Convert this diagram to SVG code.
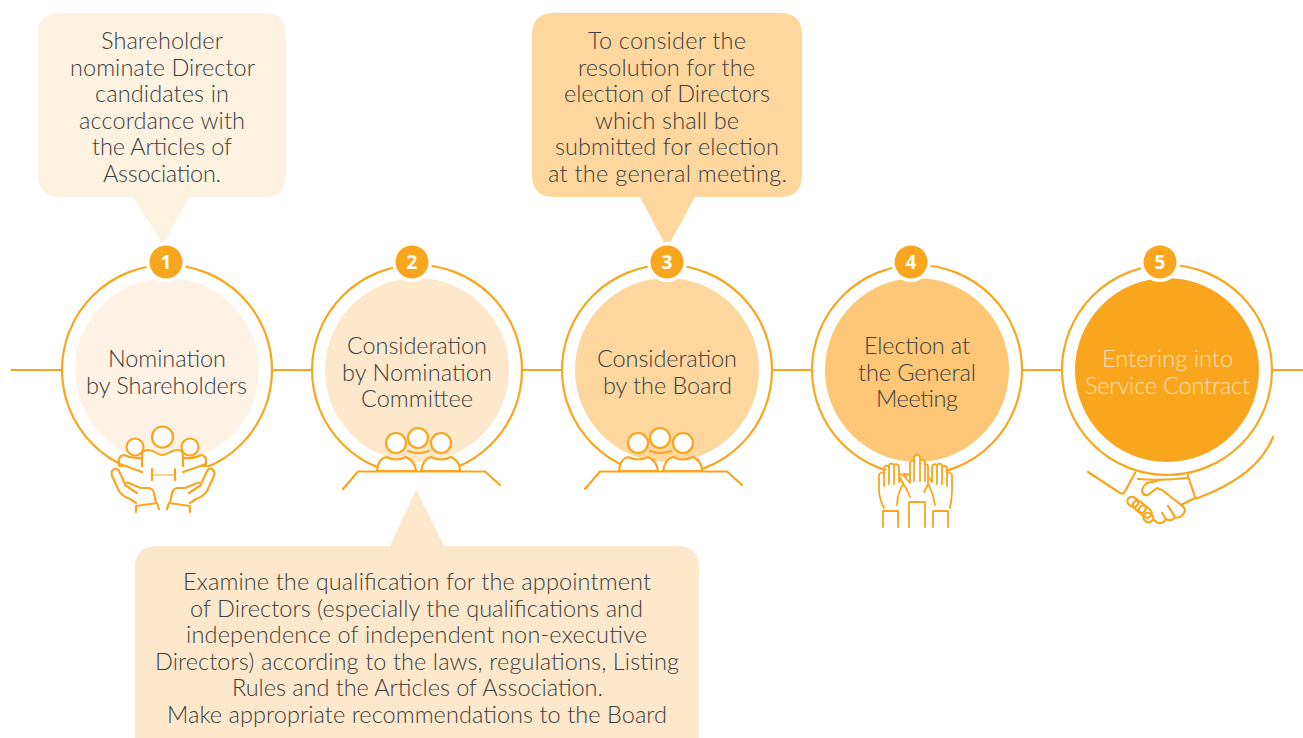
<svg xmlns="http://www.w3.org/2000/svg" width="1303" height="738" viewBox="0 0 1303 738">
<style>
.t{font-family:"Lato","Open Sans",sans-serif;font-weight:300;font-size:23.500px;fill:#3d3d3d;text-anchor:middle}
.ring{fill:none;stroke:#f9a61e;stroke-width:2.2}
.ic{fill:none;stroke:#f9a61e;stroke-width:2.2;stroke-linecap:round;stroke-linejoin:round}
.icw{fill:#fff;stroke:#f9a61e;stroke-width:2.2;stroke-linecap:round;stroke-linejoin:round}
.thin{stroke-width:1.800}
.halo{fill:#fff}
.b{fill:#f9a61e}
.n{font-family:"Open Sans","Noto Sans",sans-serif;font-weight:700;font-size:19px;fill:#fff;text-anchor:middle}
</style>
<rect width="1303" height="738" fill="#fff"/>
<g id="connectors" stroke="#f9a61e" stroke-width="2.2" fill="none">
<path d="M11 370H62M272 370H312M522 370H562M772 370H812M1022 370H1062M1272 370H1303"/>
</g>
<g id="callout-1">
<path fill="#fdf1e0" d="M60 13H264Q286 13 286 35V175Q286 197 264 197H189L163 245L133 197H60Q38 197 38 175V35Q38 13 60 13Z"/>
<text class="t" x="162" y="49" textLength="122">Shareholder</text>
<text class="t" x="162.500" y="75.500" textLength="185">nominate Director</text>
<text class="t" x="162" y="102" textLength="134">candidates in</text>
<text class="t" x="162" y="128.500" textLength="166">accordance with</text>
<text class="t" x="162" y="155" textLength="140">the Articles of</text>
<text class="t" x="162" y="181.500" textLength="118">Association.</text>
</g>
<g id="callout-3">
<path fill="#fed79e" d="M554 13H780Q802 13 802 35V175Q802 197 780 197H695L667 248L640 197H554Q532 197 532 175V35Q532 13 554 13Z"/>
<text class="t" x="667" y="49" textLength="158">To consider the</text>
<text class="t" x="666.500" y="75.500" textLength="177">resolution for the</text>
<text class="t" x="667" y="102" textLength="206">election of Directors</text>
<text class="t" x="667" y="128.500" textLength="144">which shall be</text>
<text class="t" x="667" y="155" textLength="224">submitted for election</text>
<text class="t" x="667.500" y="181.500" textLength="239">at the general meeting.</text>
</g>
<g id="callout-2">
<path fill="#fde8cc" d="M157 546H390L416 490L444 546H677Q699 546 699 568V738H135V568Q135 546 157 546Z"/>
<text class="t" x="417" y="590" textLength="468">Examine the qualification for the appointment</text>
<text class="t" x="416.500" y="616.500" textLength="453">of Directors (especially the qualifications and</text>
<text class="t" x="416.500" y="643" textLength="461">independence of independent non-executive</text>
<text class="t" x="417" y="669.500" textLength="524">Directors) according to the laws, regulations, Listing</text>
<text class="t" x="417.500" y="696" textLength="371">Rules and the Articles of Association.</text>
<text class="t" x="417" y="722.500" textLength="500">Make appropriate recommendations to the Board</text>
</g>
<g id="node-1">
<circle class="ring" cx="167" cy="370" r="105"/>
<circle cx="167" cy="370" r="92" fill="#fdf2e3"/>
<circle class="halo" cx="166" cy="262" r="20"/><circle class="b" cx="166" cy="262" r="16.500"/>
<text class="n" x="166" y="269">1</text>
<text class="t" x="167" y="367" textLength="118">Nomination</text>
<text class="t" x="166.500" y="393.500" textLength="161">by Shareholders</text>
<path class="icw" d="M119 466V460Q119 456 124 455Q132 459 141 458H185Q194 459 201 455Q206 456 206 460V466L183 473H142Z"/>
<circle class="icw" cx="135" cy="447" r="8.500"/><circle class="icw" cx="190" cy="447" r="8.500"/>
<path d="M142 473V456Q142 450 148 450C155 450 155 454 162 455C170 454 170 450 178 450Q183 450 183 456V473Z" fill="#fff"/>
<path d="M142 473V456Q142 450 148 450C155 450 155 454 162 455C170 454 170 450 178 450Q183 450 183 456V473" class="ic"/>
<circle class="icw" cx="162.500" cy="437" r="10.500"/>
<rect x="118" y="467" width="90" height="48" fill="#fff"/>
<path class="ic" d="M120 464L142 472M206 464L183 472"/>
<path class="ic" d="M152 469V480M175 469V480"/><path d="M152 475H175" stroke="#f9a61e" stroke-width="1" fill="none"/>
<path class="ic" d="M124 482L119 471Q116 467 113 470Q110 472 113 478L119 491Q122 496 130 499L136 503M125 484Q127 481 131 484L141 488H149Q153 489 154 493L156 503M125 485L137 493M136 512V506L157 503L159 509"/>
<path class="ic" d="M202 482L207 471Q210 467 213 470Q216 472 213 478L207 491Q204 496 196 499L190 503M201 484Q199 481 195 484L185 488H177Q173 489 172 493L170 503M201 485L189 493M190 512V506L169 503L167 509"/>
</g>
<g id="node-2">
<circle class="ring" cx="417" cy="370" r="105"/>
<circle cx="417" cy="370" r="92" fill="#fde8cb"/>
<circle class="halo" cx="412" cy="262" r="20"/><circle class="b" cx="412" cy="262" r="16.500"/>
<text class="n" x="412" y="269">2</text>
<text class="t" x="417" y="354" textLength="140">Consideration</text>
<text class="t" x="417" y="380.500" textLength="150">by Nomination</text>
<text class="t" x="417" y="407" textLength="112">Committee</text>
<rect x="378" y="465" width="82" height="12" fill="#fff"/>
<g id="people-2">
<circle class="icw" cx="396" cy="443" r="10"/><circle class="icw" cx="418" cy="438" r="10"/><circle class="icw" cx="441" cy="443" r="10"/>
<path class="ic" d="M408 451Q418 455 429 451"/>
<path class="icw" d="M377 471Q378 459 386 457Q396 462 406 457Q415 461 416 471Z"/>
<path class="icw" d="M421 471Q423 459 431 457Q441 462 451 457Q460 461 460 471Z"/>
<path class="ic" d="M343 489L358 471.500H485L500 485"/>
</g>
</g>
<g id="node-3">
<circle class="ring" cx="667" cy="370" r="105"/>
<circle cx="667" cy="370" r="92" fill="#fed79f"/>
<circle class="halo" cx="667" cy="262" r="20"/><circle class="b" cx="667" cy="262" r="16.500"/>
<text class="n" x="667" y="269">3</text>
<text class="t" x="667" y="367" textLength="140">Consideration</text>
<text class="t" x="667.500" y="393.500" textLength="129">by the Board</text>
<rect x="620" y="465" width="82" height="12" fill="#fff"/>
<g id="people-3" transform="translate(242 0)">
<circle class="icw" cx="396" cy="443" r="10"/><circle class="icw" cx="418" cy="438" r="10"/><circle class="icw" cx="441" cy="443" r="10"/>
<path class="ic" d="M408 451Q418 455 429 451"/>
<path class="icw" d="M377 471Q378 459 386 457Q396 462 406 457Q415 461 416 471Z"/>
<path class="icw" d="M421 471Q423 459 431 457Q441 462 451 457Q460 461 460 471Z"/>
<path class="ic" d="M343 489L358 471.500H485L500 485"/>
</g>
</g>
<g id="node-4">
<circle class="ring" cx="917" cy="370" r="105"/>
<circle cx="917" cy="370" r="92" fill="#fdc777"/>
<circle class="halo" cx="911" cy="262" r="20"/><circle class="b" cx="911" cy="262" r="16.500"/>
<text class="n" x="911" y="269">4</text>
<text class="t" x="917" y="354" textLength="106">Election at</text>
<text class="t" x="917" y="380.500" textLength="118">the General</text>
<text class="t" x="917" y="407" textLength="82">Meeting</text>
<path d="M884 508Q879 498 879 490V475L884 472L894 464L899 466L906 478L898 505Z" fill="#fff"/>
<path d="M950 508Q952 498 952 490V475L947 472L937 464L932 466L926 478L935 505Z" fill="#fff"/>
<path class="ic thin" d="M884 508Q879 498 879 490V475Q881 471 884 473V468Q886 464 889 467V465Q891 462 894 465Q897 463 899 466V482L903 476Q906 475 906 479L900 490Q897 497 897 505"/>
<path class="ic thin" d="M950 508Q952 498 952 490V475Q950 471 947 473V468Q945 464 942 467V465Q940 462 937 465Q934 463 932 466V482L928 476Q926 475 926 479L931 490Q934 497 935 505"/>
<path d="M910 497L907 490L899 476Q901 472 905 477L910 483V463Q912 459 914 462V457Q917 452 920 457V461Q923 458 925 462V465Q928 463 928 467V484L925 494Q924 497 925 498H910Z" fill="#fff"/>
<path class="ic thin" d="M910 497L907 490L899 476Q901 472 905 477L910 483V463Q912 459 914 462V457Q917 452 920 457V461Q923 458 925 462V465Q928 463 928 467V484L924 492"/>
<path class="ic thin" d="M884 472V486M889 467V484M894 465V484M914 462V481M920 461V481M925 462V481M942 467V484M937 465V484M947 473V486"/>
<path class="ic thin" d="M883 527V511H898V527M909 527V502H925V527M933 527V511H948V527"/>
</g>
<g id="node-5">
<circle class="ring" cx="1167" cy="370" r="105"/>
<circle cx="1167" cy="370" r="92" fill="#f9a61e"/>
<circle class="halo" cx="1160" cy="262" r="20"/><circle class="b" cx="1160" cy="262" r="16.500"/>
<text class="n" x="1160" y="269">5</text>
<text class="t" x="1167.500" y="367" textLength="131" style="fill:#fde0b0">Entering into</text>
<text class="t" x="1167.500" y="393.500" textLength="165" style="fill:#fde0b0">Service Contract</text>
<path class="ic" d="M1088 472L1120 493Q1122 494 1124 493L1135 473M1187 473L1195 497Q1196 499 1198 498C1225 488 1260 470 1273 437"/>
<path class="ic" d="M1138 479Q1162 481 1187 478"/>
<path class="ic" d="M1195 498L1181 505"/>
<path class="ic" d="M1157 481L1147 483Q1142 487 1142 491Q1143 496 1148 495L1157 488L1162 490L1180 504Q1187 509 1184 513Q1180 519 1175 517L1168 506M1175 517Q1172 522 1166 519L1162 513M1166 519Q1163 524 1158 523L1153 519"/>
<rect class="ic" x="1127" y="497" width="11" height="9" rx="4.500" transform="rotate(35 1132 502)"/>
<rect class="ic" x="1132" y="502" width="14" height="9" rx="4.500" transform="rotate(40 1139 507)"/>
<rect class="ic" x="1138" y="507" width="14" height="9" rx="4.500" transform="rotate(40 1145 512)"/>
<rect class="ic" x="1143" y="513" width="10" height="9" rx="4.500" transform="rotate(40 1148 518)"/>
</g>
</svg>
